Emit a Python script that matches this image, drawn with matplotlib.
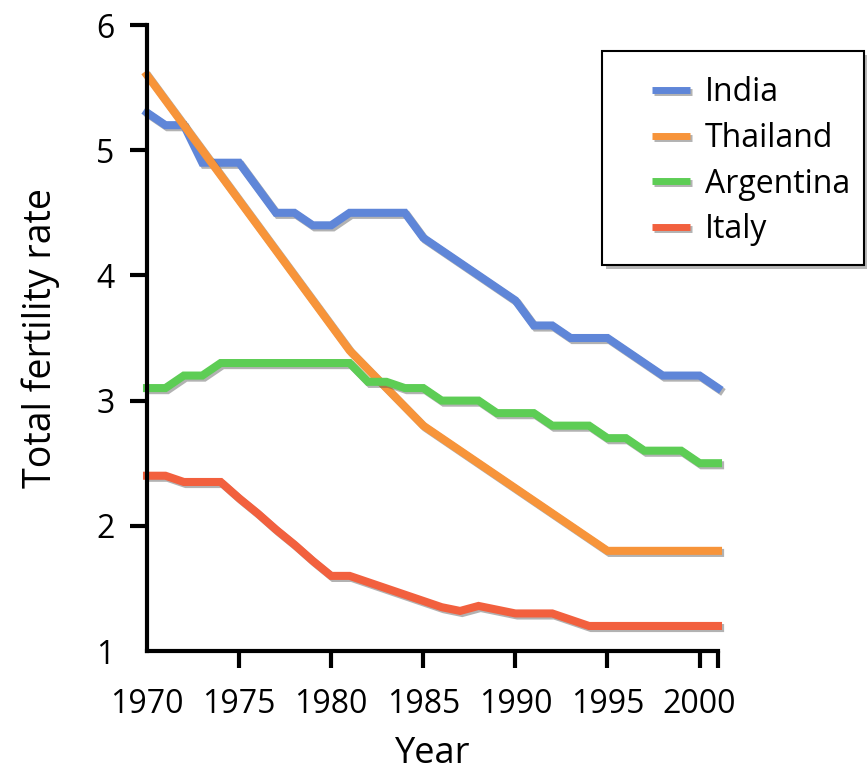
import matplotlib
matplotlib.use('Agg')
import matplotlib.pyplot as plt
import matplotlib.patheffects as pe
from matplotlib.patches import Rectangle
import numpy as np

plt.rcParams['font.family'] = ['Open Sans', 'DejaVu Sans']

years = list(range(1970, 2002))

india = [5.3, 5.2, 5.2, 4.9, 4.9, 4.9, 4.7, 4.5, 4.5, 4.4, 4.4, 4.5, 4.5, 4.5, 4.5, 4.3,
         4.2, 4.1, 4.0, 3.9, 3.8, 3.6, 3.6, 3.5, 3.5, 3.5, 3.4, 3.3, 3.2, 3.2, 3.2, 3.1]
thailand = [5.6, 5.4, 5.2, 5.0, 4.8, 4.6, 4.4, 4.2, 4.0, 3.8, 3.6, 3.4, 3.25, 3.1, 2.95, 2.8,
            2.7, 2.6, 2.5, 2.4, 2.3, 2.2, 2.1, 2.0, 1.9, 1.8, 1.8, 1.8, 1.8, 1.8, 1.8, 1.8]
argentina = [3.1, 3.1, 3.2, 3.2, 3.3, 3.3, 3.3, 3.3, 3.3, 3.3, 3.3, 3.3, 3.15, 3.15, 3.1, 3.1,
             3.0, 3.0, 3.0, 2.9, 2.9, 2.9, 2.8, 2.8, 2.8, 2.7, 2.7, 2.6, 2.6, 2.6, 2.5, 2.5]
italy = [2.4, 2.4, 2.35, 2.35, 2.35, 2.22, 2.1, 1.97, 1.85, 1.72, 1.6, 1.6, 1.55, 1.5, 1.45, 1.4,
         1.35, 1.32, 1.36, 1.33, 1.3, 1.3, 1.3, 1.25, 1.2, 1.2, 1.2, 1.2, 1.2, 1.2, 1.2, 1.2]

series = [('India', india, '#5f86d8'),
          ('Thailand', thailand, '#f7943a'),
          ('Argentina', argentina, '#5dcd55'),
          ('Italy', italy, '#f2603e')]

xtick_vals = [1970, 1975, 1980, 1985, 1990, 1995, 2000, 2001]
xtick_labels = ['1970', '1975', '1980', '1985', '1990', '1995', '2000', '']
ytick_vals = [1, 2, 3, 4, 5, 6]

fig = plt.figure(figsize=(8.67, 7.78), dpi=100)
ax = fig.add_axes([147 / 867, 1 - 651 / 778, (718 - 147) / 867, (651 - 25) / 778])

shadow = [pe.SimpleLineShadow(offset=(1.5, -1.5), shadow_color='#555555', alpha=0.45), pe.Normal()]
for name, vals, col in series:
    ax.plot(years, vals, color=col, lw=5.8, label=name, solid_joinstyle='miter',
            path_effects=shadow, clip_on=False)

ax.set_xlim(1970, 2001)
ax.set_ylim(1, 6)
ax.set_xticks(xtick_vals)
ax.set_xticklabels(xtick_labels)
ax.set_yticks(ytick_vals)
ax.xaxis.get_major_ticks()[0].tick1line.set_visible(False)
ax.yaxis.get_major_ticks()[0].tick1line.set_visible(False)

for s in ['top', 'right']:
    ax.spines[s].set_visible(False)
for s in ['left', 'bottom']:
    ax.spines[s].set_linewidth(3)
ax.tick_params(width=3, length=12.5, labelsize=23, color='black')
ax.tick_params(axis='x', pad=14)
ax.tick_params(axis='y', pad=11)

ax.set_xlabel('Year', fontsize=26, labelpad=11)
ax.set_ylabel('Total fertility rate', fontsize=27, labelpad=26)

# legend box
box = Rectangle((602 / 867, 1 - 265 / 778), 262 / 867, 214 / 778, transform=fig.transFigure,
                facecolor='white', edgecolor='black', lw=1.5, zorder=5,
                path_effects=[pe.SimplePatchShadow(offset=(3, -3), shadow_rgbFace='#888888', alpha=0.6), pe.Normal()])
fig.patches.append(box)
leg = fig.legend(loc='upper left', bbox_to_anchor=(636 / 867, 1 - 60 / 778), frameon=False,
                 fontsize=23, handlelength=1.2, handletextpad=0.45, labelspacing=0.4, borderpad=0)
leg.set_zorder(6)
for h in leg.get_lines():
    h.set_linewidth(5)
    h.set_solid_capstyle('butt')

fig.savefig('out.png', dpi=100)
